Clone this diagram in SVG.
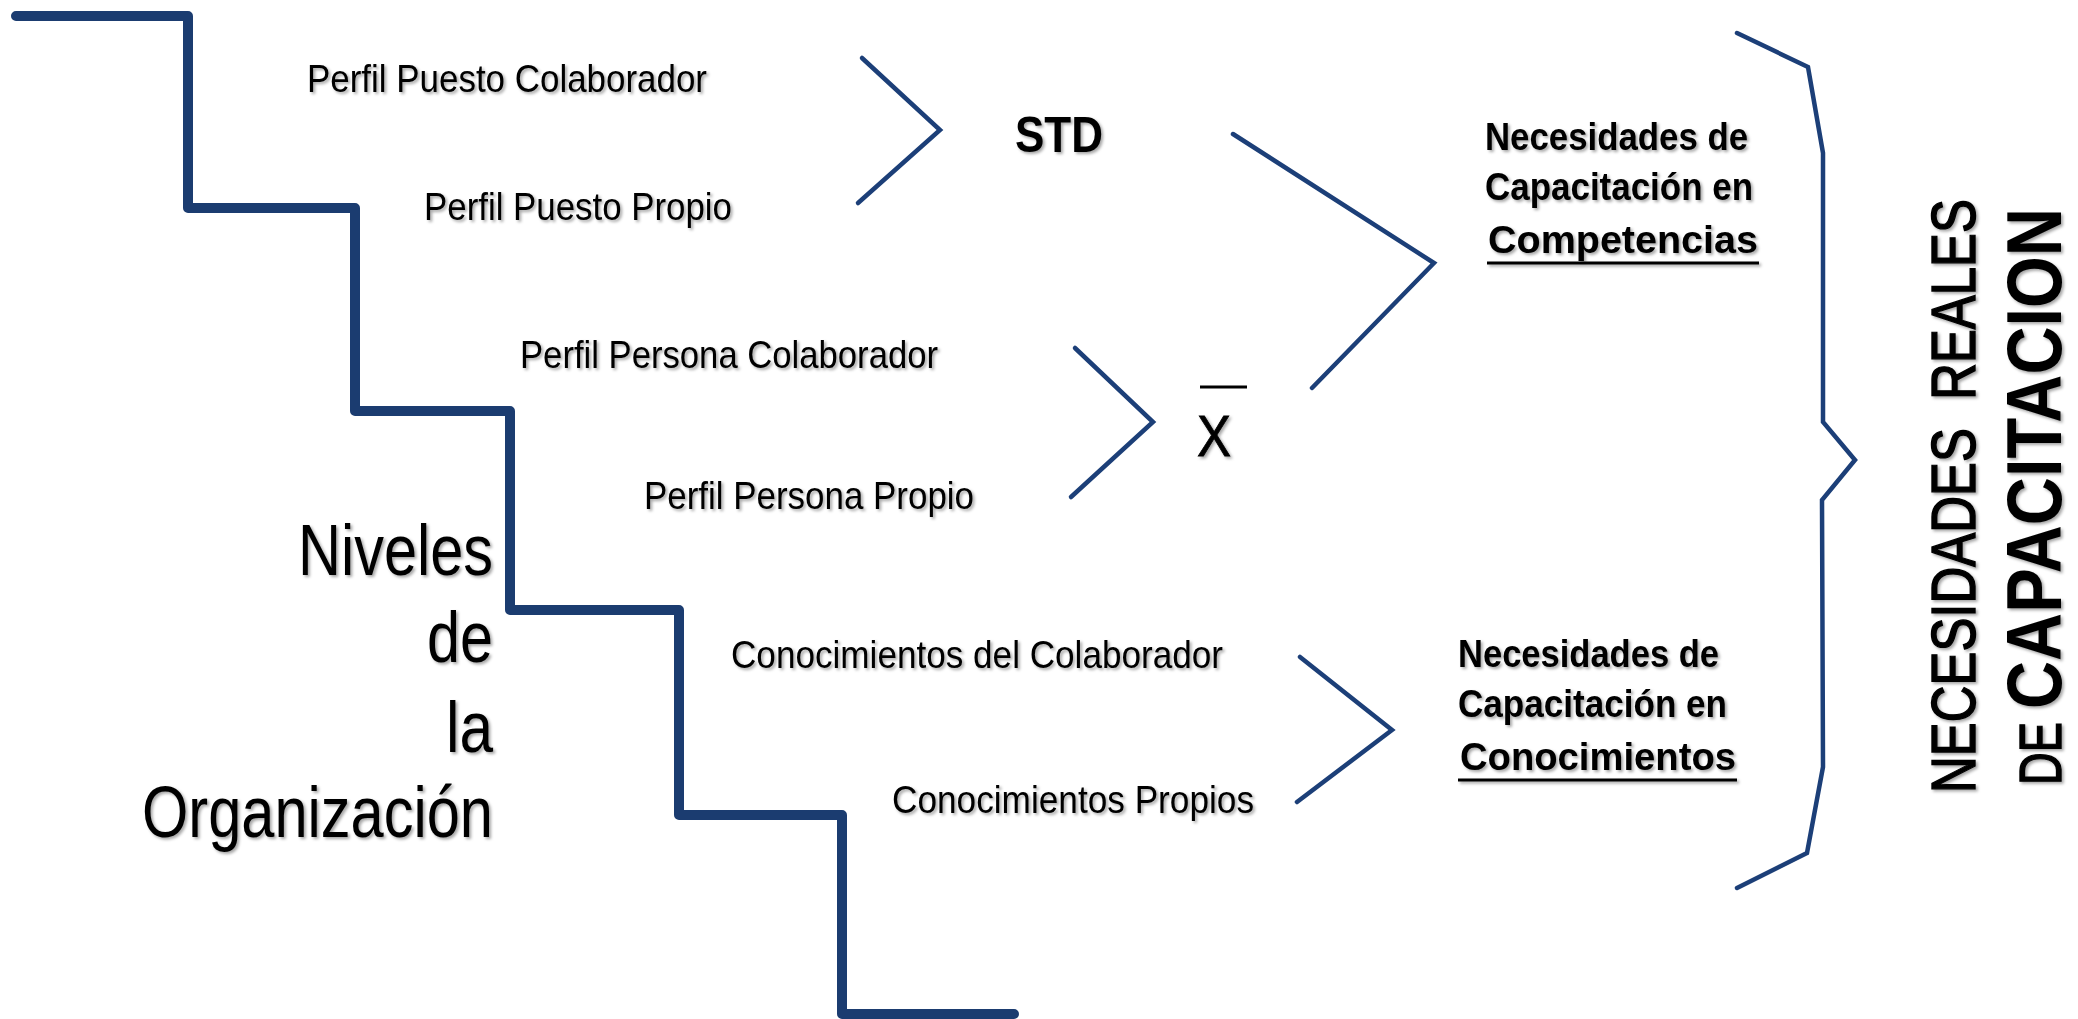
<svg xmlns="http://www.w3.org/2000/svg" width="2078" height="1019" viewBox="0 0 2078 1019">
  <defs>
    <filter id="sh" x="-10%" y="-20%" width="120%" height="150%">
      <feDropShadow dx="2" dy="2" stdDeviation="1.5" flood-color="#000" flood-opacity="0.35"/>
    </filter>
    <style>
      .lbl { font-family: "Liberation Sans Narrow", "Liberation Sans", Arial, sans-serif; font-size: 39px; fill: #000; }
      .big { font-family: "Liberation Sans Narrow", "Liberation Sans", Arial, sans-serif; font-size: 72px; fill: #000; }
      .nec { font-family: "Liberation Sans", Arial, sans-serif; font-weight: bold; font-size: 39px; fill: #000; }
      .vert { font-family: "Liberation Sans", Arial, sans-serif; fill: #000; }
      .heavy { stroke: #000; stroke-width: 1.4; }
      .stair { fill: none; stroke: #1b3c70; stroke-width: 10; stroke-linejoin: round; stroke-linecap: round; }
      .chev { fill: none; stroke: #1c3f78; stroke-width: 4.5; stroke-linejoin: miter; stroke-linecap: round; }
      .ul { stroke: #000; stroke-width: 3; }
      .shadow { filter: url(#sh); }
    </style>
  </defs>
  <rect width="2078" height="1019" fill="#fff"/>

  <g id="staircase">
    <path class="stair" d="M16,16 H188 V208 H355 V411 H510 V610 H679 V815 H842 V1014 H1014"/>
  </g>

  <g id="niveles" class="shadow">
    <text class="big" x="298" y="575" textLength="195" lengthAdjust="spacingAndGlyphs">Niveles</text>
    <text class="big" x="427" y="662" textLength="66" lengthAdjust="spacingAndGlyphs">de</text>
    <text class="big" x="446" y="752" textLength="47" lengthAdjust="spacingAndGlyphs">la</text>
    <text class="big" x="142" y="837" textLength="351" lengthAdjust="spacingAndGlyphs">Organización</text>
  </g>

  <g id="labels" class="shadow">
    <text id="lbl-ppc" class="lbl" x="307" y="92" textLength="400" lengthAdjust="spacingAndGlyphs">Perfil Puesto Colaborador</text>
    <text id="lbl-ppp" class="lbl" x="424" y="220" textLength="308" lengthAdjust="spacingAndGlyphs">Perfil Puesto Propio</text>
    <text id="lbl-pec" class="lbl" x="520" y="368" textLength="418" lengthAdjust="spacingAndGlyphs">Perfil Persona Colaborador</text>
    <text id="lbl-pep" class="lbl" x="644" y="509" textLength="330" lengthAdjust="spacingAndGlyphs">Perfil Persona Propio</text>
    <text id="lbl-cc" class="lbl" x="731" y="668" textLength="492" lengthAdjust="spacingAndGlyphs">Conocimientos del Colaborador</text>
    <text id="lbl-cp" class="lbl" x="892" y="813" textLength="362" lengthAdjust="spacingAndGlyphs">Conocimientos Propios</text>
  </g>

  <g id="std" class="shadow">
    <text x="1015" y="152" font-family="Liberation Sans, Arial, sans-serif" font-weight="bold" font-size="50" textLength="88" lengthAdjust="spacingAndGlyphs">STD</text>
  </g>

  <g id="xbar">
    <line x1="1200" y1="387" x2="1247" y2="387" stroke="#000" stroke-width="3"/>
    <text class="shadow" x="1197" y="456" font-family="Liberation Sans Narrow, Liberation Sans, Arial, sans-serif" font-size="58" textLength="34" lengthAdjust="spacingAndGlyphs" stroke="#000" stroke-width="0.8">X</text>
  </g>

  <g id="nec-competencias" class="shadow">
    <text class="nec" x="1485" y="150" textLength="263" lengthAdjust="spacingAndGlyphs">Necesidades de</text>
    <text class="nec" x="1485" y="200" textLength="268" lengthAdjust="spacingAndGlyphs">Capacitación en</text>
    <text class="nec" x="1488" y="253" textLength="270" lengthAdjust="spacingAndGlyphs">Competencias</text>
    <line class="ul" x1="1487" y1="263" x2="1759" y2="263"/>
  </g>

  <g id="nec-conocimientos" class="shadow">
    <text class="nec" x="1458" y="667" textLength="261" lengthAdjust="spacingAndGlyphs">Necesidades de</text>
    <text class="nec" x="1458" y="717" textLength="269" lengthAdjust="spacingAndGlyphs">Capacitación en</text>
    <text class="nec" x="1460" y="770" textLength="276" lengthAdjust="spacingAndGlyphs">Conocimientos</text>
    <line class="ul" x1="1458" y1="780" x2="1737" y2="780"/>
  </g>

  <g id="necesidades-reales" class="shadow">
    <text class="vert heavy" transform="translate(1975,793) rotate(-90)" x="0" y="0" font-size="63" textLength="594" lengthAdjust="spacingAndGlyphs" xml:space="preserve">NECESIDADES  REALES</text>
    <g transform="translate(2061,785) rotate(-90)">
      <text class="vert heavy" x="0" y="0" font-size="60" textLength="63" lengthAdjust="spacingAndGlyphs">DE</text>
      <text class="vert" x="76" y="0" font-size="77" font-weight="bold" textLength="501" lengthAdjust="spacingAndGlyphs">CAPACITACION</text>
    </g>
  </g>

  <g id="connectors">
    <polyline class="chev" points="862,58 940,130 858,203"/>
    <polyline class="chev" points="1075,348 1153,422 1071,497"/>
    <polyline class="chev" points="1233,134 1434,263 1312,388"/>
    <polyline class="chev" points="1300,657 1392,730 1297,802"/>
    <polyline class="chev" points="1737,33 1808,67 1823,153 1823,422 1855,460 1822,500 1823,767 1807,853 1737,888"/>
  </g>
</svg>
